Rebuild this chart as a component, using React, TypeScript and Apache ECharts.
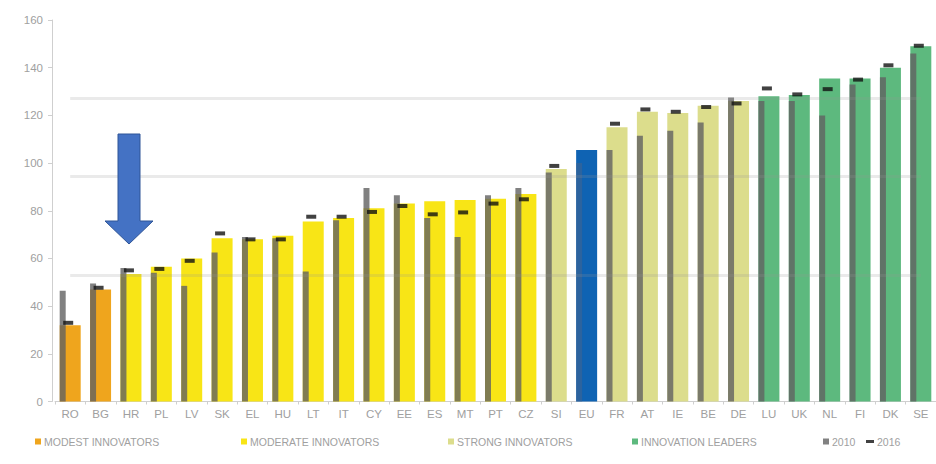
import React, { useEffect, useRef } from "react";
import * as echarts from "echarts";

const categories = ["RO","BG","HR","PL","LV","SK","EL","HU","LT","IT","CY","EE","ES","MT","PT","CZ","SI","EU","FR","AT","IE","BE","DE","LU","UK","NL","FI","DK","SE"];
const groups = ["modest","modest","moderate","moderate","moderate","moderate","moderate","moderate","moderate","moderate","moderate","moderate","moderate","moderate","moderate","moderate","strong","eu","strong","strong","strong","strong","strong","leader","leader","leader","leader","leader","leader"];
const performanceBar = [32, 47, 53.5, 56.5, 60, 68.5, 68, 69.5, 75.5, 77, 81, 83, 84, 84.5, 85, 87, 97.5, 105.5, 115, 121.5, 121, 124, 126, 128, 128.5, 135.5, 135.5, 140, 149];
const values2010 = [46.5, 49.5, 56, 54, 48.5, 62.5, 69, 68.5, 54.5, 76, 89.5, 86.5, 77, 69, 86.5, 89.5, 96, 100, 105.5, 111.5, 113.5, 117, 127.5, 126, 126, 120, 133, 136, 146];
const values2016 = [33, 47.7, 55, 55.6, 59, 70.5, 68, 68, 77.5, 77.5, 79.5, 82, 78.5, 79.3, 83, 84.8, 98.8, null, 116.5, 122.5, 121.5, 123.5, 125, 131.3, 128.8, 131, 135, 141, 149.2];
const thresholds = [127, 94.5, 53];
const groupNames = ["MODEST INNOVATORS", "MODERATE INNOVATORS", "STRONG INNOVATORS", "INNOVATION LEADERS"];
const groupKeys = ["modest", "moderate", "strong", "leader"];

const COLORS: Record<string, string> = {
  modest: "#EFA51D",
  moderate: "#F8E516",
  strong: "#DCDD8C",
  leader: "#5DB97E",
  eu: "#0F63B3",
};
const GRAY = "rgba(98,98,98,0.8)";
const TXT = "#a0a0a0";
const FONT = "'Liberation Sans', Arial, sans-serif";

export default function App() {
  const ref = useRef<HTMLDivElement>(null);
  useEffect(() => {
    if (!ref.current) return;
    const chart = echarts.init(ref.current, null, { renderer: "svg" });
    const legendPos = [30, 236, 443, 627, 818, 861];
    const legendNames = [...groupNames, "2010", "2016"];
    const legends = legendNames.map((n, i) => ({
      data: [{ name: n, icon: "rect" }],
      left: legendPos[i],
      top: 431,
      orient: "horizontal",
      itemWidth: n === "2016" ? 8 : 6,
      itemHeight: n === "2016" ? 3 : 6,
      itemGap: 4,
      selectedMode: false,
      textStyle: { color: TXT, fontSize: 10.5, fontFamily: FONT, padding: [0, 0, 0, -2] },
    }));
    const option: any = {
      animation: false,
      backgroundColor: "#ffffff",
      legend: legends,
      grid: { left: 55, right: -17, top: 20, bottom: 62.5, containLabel: false },
      xAxis: {
        type: "category",
        data: categories,
        axisLine: { lineStyle: { color: "#cfcfcf" } },
        axisTick: { show: true, length: 3, interval: 0, lineStyle: { color: "#cfcfcf" } },
        axisLabel: { color: TXT, fontSize: 11.5, fontFamily: FONT, margin: 6, interval: 0 },
      },
      yAxis: {
        type: "value",
        min: 0,
        max: 160,
        interval: 20,
        offset: 3,
        axisLine: { show: true, lineStyle: { color: "#cfcfcf" } },
        axisTick: { show: true, length: 4, lineStyle: { color: "#cfcfcf" } },
        axisLabel: { color: TXT, fontSize: 11.5, fontFamily: FONT, margin: 9 },
        splitLine: { show: false },
      },
      graphic: [
        {
          type: "polygon",
          shape: { points: [[118, 134], [140, 134], [140, 221], [153, 221], [129, 244], [105, 221], [118, 221]] },
          style: { fill: "#4472C4", stroke: "#2F5597", lineWidth: 1 },
          z: 100,
        },
      ],
      series: [
        {
          name: "2010",
          type: "bar",
          barWidth: 6,
          barGap: "-100%",
          z: 3,
          itemStyle: { color: GRAY },
          data: values2010.map((v, i) => (groups[i] === "eu" ? { value: v, itemStyle: { color: "rgba(70,100,140,0.55)" } } : v)),
        },
        {
          name: "performance",
          type: "bar",
          barWidth: 21,
          z: 2,
          data: performanceBar.map((v, i) => ({ value: v, itemStyle: { color: COLORS[groups[i]] } })),
          markLine: {
            silent: true,
            symbol: "none",
            label: { show: false },
            lineStyle: { color: "rgba(150,150,150,0.2)", width: 3, type: "solid" },
            data: thresholds.map((t) => [{ coord: [0.37, t] }, { coord: [28, t] }]),
            z: 4,
          },
        },
        {
          name: "2016",
          type: "scatter",
          symbol: "rect",
          symbolSize: [10, 4],
          symbolOffset: [-2, 0],
          z: 5,
          itemStyle: { color: "#111111" },
          data: values2016.map((v) => (v === null ? "-" : v)),
        },
        ...groupNames.map((n, i) => ({
          name: n,
          type: "line",
          data: [],
          itemStyle: { color: COLORS[groupKeys[i]] },
        })),
      ],
    };
    chart.setOption(option);
    return () => chart.dispose();
  }, []);
  return <div ref={ref} style={{ position: "fixed", left: 0, top: 0, width: 936, height: 464 }} />;
}
